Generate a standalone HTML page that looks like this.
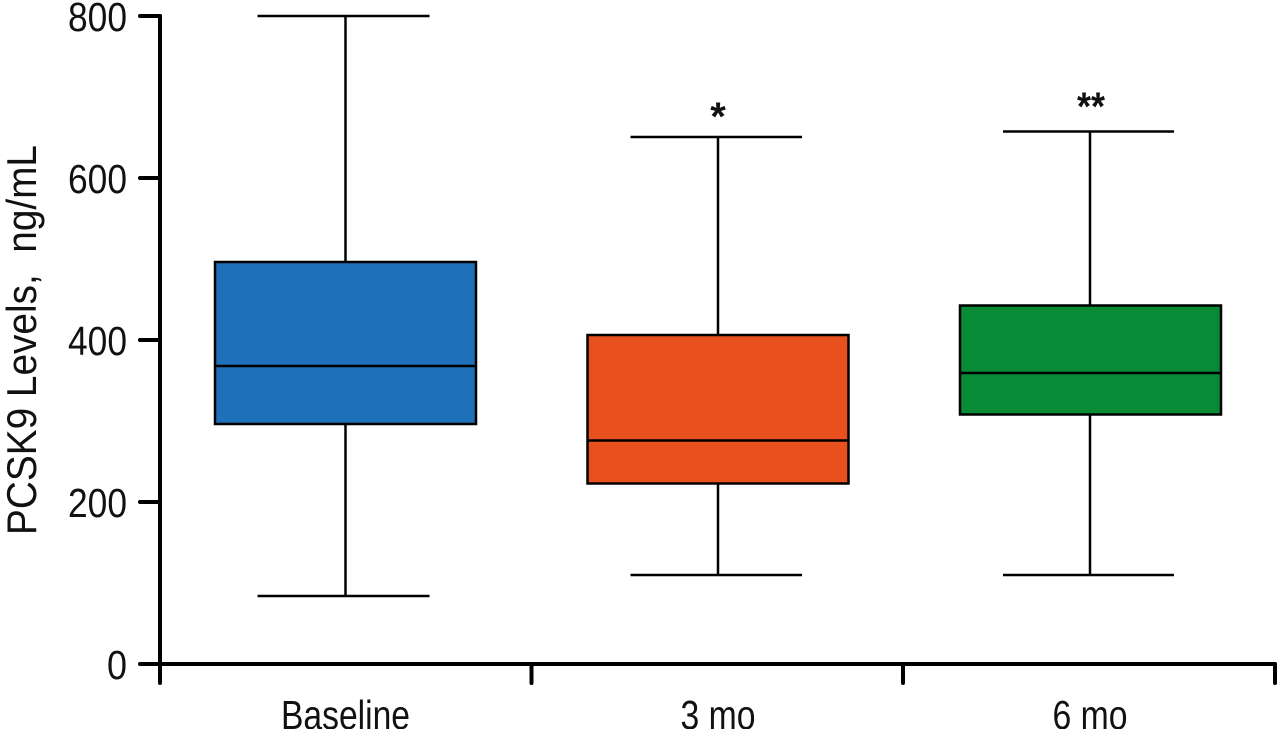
<!DOCTYPE html>
<html>
<head>
<meta charset="utf-8">
<style>
  html,body{margin:0;padding:0;background:#fff;}
  svg{display:block;}
  text{font-family:"Liberation Sans Narrow","Liberation Sans",sans-serif;fill:#111;}
</style>
</head>
<body>
<svg width="1280" height="729" viewBox="0 0 1280 729" xmlns="http://www.w3.org/2000/svg">
  <!-- Y axis label -->
  <text x="0" y="0" transform="translate(36,340) rotate(-90)" font-size="42" text-anchor="middle" textLength="390" lengthAdjust="spacingAndGlyphs">PCSK9 Levels,&#160; ng/mL</text>

  <!-- Y tick labels -->
  <g font-size="41" text-anchor="end">
    <text x="127" y="31" textLength="59" lengthAdjust="spacingAndGlyphs">800</text>
    <text x="127" y="193" textLength="59" lengthAdjust="spacingAndGlyphs">600</text>
    <text x="127" y="355" textLength="59" lengthAdjust="spacingAndGlyphs">400</text>
    <text x="127" y="517" textLength="59" lengthAdjust="spacingAndGlyphs">200</text>
    <text x="127" y="679" textLength="20" lengthAdjust="spacingAndGlyphs">0</text>
  </g>

  <!-- Axes -->
  <g stroke="#000" stroke-width="4" stroke-linecap="round" fill="none">
    <line x1="160" y1="16" x2="160" y2="683"/>
    <line x1="140" y1="664" x2="1275" y2="664"/>
    <line x1="140" y1="16" x2="160" y2="16"/>
    <line x1="140" y1="178" x2="160" y2="178"/>
    <line x1="140" y1="340" x2="160" y2="340"/>
    <line x1="140" y1="502" x2="160" y2="502"/>
    <line x1="531.5" y1="664" x2="531.5" y2="683"/>
    <line x1="903" y1="664" x2="903" y2="683"/>
    <line x1="1275" y1="664" x2="1275" y2="683"/>
  </g>

  <!-- Baseline box -->
  <g stroke="#000" stroke-width="2.5" fill="none">
    <line x1="257.5" y1="16" x2="429.5" y2="16"/>
    <line x1="345.5" y1="16" x2="345.5" y2="262"/>
    <line x1="345.5" y1="424" x2="345.5" y2="596"/>
    <line x1="257.5" y1="596" x2="429.5" y2="596"/>
    <rect x="215" y="262" width="261" height="162" fill="#1e70b8"/>
    <line x1="215" y1="366" x2="476" y2="366"/>
  </g>

  <!-- 3 mo box -->
  <g stroke="#000" stroke-width="2.5" fill="none">
    <line x1="630.5" y1="137" x2="802" y2="137"/>
    <line x1="718" y1="137" x2="718" y2="335"/>
    <line x1="718" y1="483.5" x2="718" y2="575"/>
    <line x1="630.5" y1="575" x2="802" y2="575"/>
    <rect x="587.5" y="335" width="261" height="148.5" fill="#e8501d"/>
    <line x1="587.5" y1="440.5" x2="848.5" y2="440.5"/>
  </g>

  <!-- 6 mo box -->
  <g stroke="#000" stroke-width="2.5" fill="none">
    <line x1="1003" y1="131.5" x2="1174" y2="131.5"/>
    <line x1="1090" y1="131.5" x2="1090" y2="305.5"/>
    <line x1="1090" y1="414.5" x2="1090" y2="575"/>
    <line x1="1003" y1="575" x2="1174" y2="575"/>
    <rect x="960" y="305.5" width="261" height="109" fill="#078b37"/>
    <line x1="960" y1="373" x2="1221" y2="373"/>
  </g>

  <!-- Significance markers -->
  <text x="718" y="130" font-size="40" font-weight="bold" text-anchor="middle" font-family="Liberation Sans, sans-serif">*</text>
  <text x="1091" y="120" font-size="40" font-weight="bold" text-anchor="middle" font-family="Liberation Sans, sans-serif" textLength="28" lengthAdjust="spacingAndGlyphs">**</text>

  <!-- X tick labels -->
  <g font-size="41" text-anchor="middle">
    <text x="345.5" y="729" textLength="129" lengthAdjust="spacingAndGlyphs">Baseline</text>
    <text x="718" y="729" textLength="75" lengthAdjust="spacingAndGlyphs">3 mo</text>
    <text x="1090" y="729" textLength="75" lengthAdjust="spacingAndGlyphs">6 mo</text>
  </g>
</svg>
</body>
</html>
